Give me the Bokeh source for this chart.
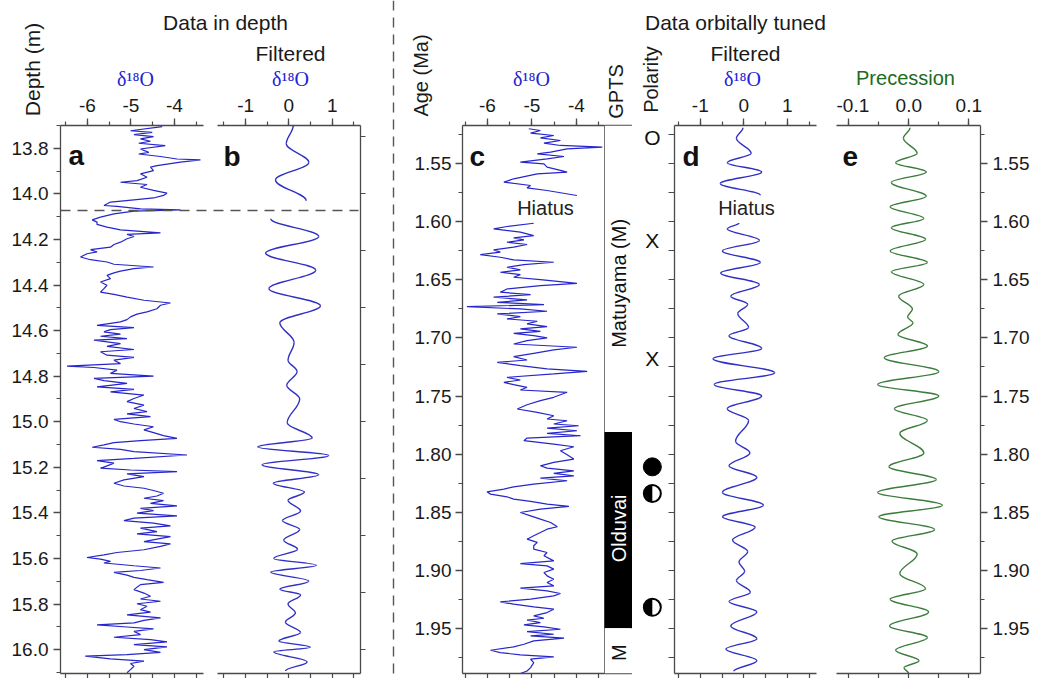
import math
from bokeh.plotting import figure
from bokeh.layouts import row
from bokeh.models import (Range1d, LinearAxis, SingleIntervalTicker, FixedTicker,
                          NumeralTickFormatter, Label, Span, GridBox)
from bokeh.core.properties import value
from bokeh.embed import file_html
from bokeh.resources import INLINE

# ---------------------------------------------------------------- data
# (a) d18O vs depth (m)
depth_a = [13.705, 13.723, 13.730, 13.740, 13.749, 13.759, 13.769, 13.778, 13.788, 13.803,
           13.818, 13.825, 13.836, 13.847, 13.851, 13.861, 13.876, 13.883, 13.898, 13.912,
           13.927, 13.942, 13.949, 13.959, 13.971, 13.985, 13.997, 14.007, 14.018, 14.026,
           14.036, 14.051, 14.055, 14.066, 14.070, 14.076, 14.088, 14.102, 14.114, 14.124,
           14.134, 14.146, 14.158, 14.171, 14.178, 14.187, 14.197, 14.212, 14.222, 14.234,
           14.245, 14.255, 14.263, 14.277, 14.289, 14.299, 14.309, 14.321, 14.328, 14.339,
           14.347, 14.358, 14.372, 14.387, 14.401, 14.416, 14.431, 14.441, 14.453, 14.467,
           14.479, 14.489, 14.504, 14.518, 14.528, 14.540, 14.552, 14.562, 14.577, 14.587,
           14.596, 14.606, 14.616, 14.625, 14.635, 14.642, 14.657, 14.669, 14.683, 14.693,
           14.708, 14.718, 14.730, 14.745, 14.756, 14.762, 14.774, 14.788, 14.800, 14.810,
           14.820, 14.832, 14.847, 14.858, 14.869, 14.883, 14.898, 14.912, 14.927, 14.942,
           14.956, 14.966, 14.978, 14.990, 15.000, 15.010, 15.022, 15.036, 15.048, 15.061,
           15.073, 15.083, 15.092, 15.102, 15.112, 15.121, 15.131, 15.146, 15.161, 15.171,
           15.182, 15.194, 15.204, 15.212, 15.219, 15.229, 15.241, 15.255, 15.270, 15.282,
           15.292, 15.302, 15.314, 15.326, 15.336, 15.346, 15.358, 15.369, 15.380, 15.390,
           15.401, 15.413, 15.423, 15.434, 15.445, 15.457, 15.467, 15.482, 15.492, 15.504,
           15.515, 15.526, 15.536, 15.547, 15.562, 15.574, 15.584, 15.596, 15.603, 15.613,
           15.620, 15.632, 15.642, 15.653, 15.661, 15.673, 15.683, 15.693, 15.705, 15.715,
           15.726, 15.737, 15.752, 15.766, 15.778, 15.788, 15.799, 15.810, 15.825, 15.836,
           15.848, 15.861, 15.872, 15.883, 15.892, 15.901, 15.909, 15.920, 15.934, 15.946,
           15.956, 15.966, 15.978, 15.988, 16.000, 16.012, 16.022, 16.029, 16.041, 16.051,
           16.061, 16.073, 16.088, 16.102]
d18o_a = [-4.28, -5.01, -4.51, -4.93, -4.48, -4.78, -4.55, -4.82, -4.21, -4.78,
          -4.59, -4.82, -4.32, -3.94, -3.40, -3.86, -4.40, -4.55, -4.48, -4.78,
          -4.63, -4.86, -5.24, -4.63, -4.78, -4.48, -4.17, -4.25, -4.48, -4.93,
          -5.47, -5.62, -5.32, -4.78, -3.86, -4.93, -5.39, -5.70, -5.89, -5.78,
          -5.78, -5.55, -5.24, -4.32, -5.09, -4.93, -5.09, -5.24, -5.39, -5.47,
          -5.93, -5.78, -6.01, -6.16, -5.93, -5.55, -5.39, -4.48, -4.93, -5.24,
          -5.39, -5.55, -5.47, -5.70, -5.55, -5.62, -5.70, -5.39, -5.09, -4.70,
          -4.09, -4.32, -4.40, -4.63, -4.86, -5.01, -5.09, -5.24, -5.78, -4.93,
          -5.47, -5.62, -5.24, -5.70, -5.09, -5.85, -5.24, -5.55, -4.93, -5.70,
          -5.55, -4.93, -5.39, -5.24, -6.47, -5.85, -5.32, -5.47, -4.48, -5.85,
          -5.62, -5.09, -5.78, -4.93, -5.47, -4.70, -4.93, -5.09, -4.70, -4.93,
          -4.63, -5.09, -4.55, -5.39, -5.24, -4.93, -4.48, -4.70, -4.48, -4.25,
          -3.94, -4.78, -5.39, -5.62, -5.89, -5.24, -4.93, -3.71, -4.93, -5.78,
          -5.39, -5.55, -5.70, -5.01, -3.94, -5.09, -4.70, -5.16, -5.39, -5.16,
          -4.70, -4.48, -4.25, -4.40, -4.70, -4.25, -4.55, -3.94, -4.78, -4.48,
          -4.86, -3.94, -4.93, -5.16, -4.48, -4.09, -4.78, -4.40, -4.86, -4.09,
          -4.40, -4.70, -4.09, -4.32, -4.70, -5.32, -5.62, -6.01, -5.70, -5.47,
          -5.62, -4.93, -4.32, -4.78, -5.39, -5.09, -4.93, -4.63, -4.25, -4.78,
          -4.86, -4.93, -4.70, -4.55, -4.78, -4.32, -4.86, -4.63, -4.78, -4.55,
          -5.09, -4.32, -4.70, -4.93, -5.78, -5.09, -4.48, -4.93, -4.78, -5.39,
          -4.55, -4.17, -4.93, -4.17, -4.70, -4.32, -5.09, -6.05, -5.47, -4.70,
          -5.01, -4.93, -5.01, -5.09]

# (b) filtered d18O vs depth (turning points), two segments around the hiatus
depth_b1 = [13.700, 13.780, 13.862, 13.939, 14.030]
filt_b1 = [0.10, -0.06, 0.46, -0.31, 0.40]
depth_b2 = [14.109, 14.187, 14.260, 14.335, 14.416, 14.491, 14.566, 14.652, 14.730, 14.780,
            14.840, 14.900, 15.005, 15.072, 15.111, 15.148, 15.189, 15.233, 15.270, 15.309,
            15.345, 15.392, 15.434, 15.473, 15.520, 15.560, 15.600, 15.630, 15.660, 15.700,
            15.735, 15.760, 15.800, 15.840, 15.880, 15.925, 15.962, 15.990, 16.010, 16.054,
            16.094]
filt_b2 = [-0.42, 0.69, -0.54, 0.62, -0.46, 0.73, -0.21, 0.12, -0.02, 0.19,
           -0.05, 0.25, -0.04, 0.54, -0.72, 0.92, -0.62, 0.69, -0.36, 0.36,
           -0.02, 0.27, -0.15, 0.25, -0.12, 0.20, -0.35, 0.64, -0.42, 0.46,
           -0.21, 0.27, -0.02, 0.15, -0.08, 0.27, -0.23, 0.50, -0.35, 0.42,
           -0.08]
hiatus_depth = 14.073

# (c) d18O vs age (Ma), two segments around the hiatus
age_c1 = [1.5198, 1.5213, 1.5236, 1.5256, 1.5276, 1.5299, 1.5322, 1.5342, 1.5356, 1.5371,
          1.5399, 1.5414, 1.5437, 1.5457, 1.5486, 1.5500, 1.5529, 1.5557, 1.5572, 1.5586,
          1.5629, 1.5658, 1.5687, 1.5707, 1.5730, 1.5773]
d18o_c1 = [-5.07, -4.81, -5.03, -4.51, -4.81, -4.36, -4.73, -4.36, -3.42, -4.21,
           -4.58, -4.88, -4.28, -4.66, -5.26, -4.73, -4.66, -4.36, -4.21, -4.88,
           -5.41, -5.63, -5.03, -5.11, -4.66, -3.99]
age_c2 = [1.6012, 1.6040, 1.6060, 1.6089, 1.6118, 1.6138, 1.6155, 1.6175, 1.6195, 1.6218,
          1.6241, 1.6261, 1.6282, 1.6305, 1.6328, 1.6348, 1.6368, 1.6391, 1.6414, 1.6434,
          1.6454, 1.6477, 1.6497, 1.6529, 1.6549, 1.6578, 1.6606, 1.6626, 1.6649, 1.6672,
          1.6693, 1.6713, 1.6730, 1.6750, 1.6770, 1.6793, 1.6816, 1.6836, 1.6856, 1.6879,
          1.6902, 1.6922, 1.6943, 1.6960, 1.6980, 1.7000, 1.7023, 1.7052, 1.7080, 1.7103,
          1.7132, 1.7161, 1.7190, 1.7210, 1.7239, 1.7267, 1.7287, 1.7310, 1.7339, 1.7362,
          1.7382, 1.7402, 1.7425, 1.7448, 1.7468, 1.7489, 1.7511, 1.7540, 1.7575, 1.7612,
          1.7641, 1.7670, 1.7698, 1.7713, 1.7741, 1.7756, 1.7776, 1.7799, 1.7822, 1.7842,
          1.7862, 1.7885, 1.7914, 1.7937, 1.7971, 1.8006, 1.8043, 1.8072, 1.8101, 1.8121,
          1.8144, 1.8167, 1.8187, 1.8207, 1.8230, 1.8259, 1.8282, 1.8302, 1.8325, 1.8345,
          1.8368, 1.8388, 1.8408, 1.8431, 1.8451, 1.8474, 1.8503, 1.8532, 1.8560, 1.8589,
          1.8626, 1.8647, 1.8675, 1.8704, 1.8733, 1.8761, 1.8790, 1.8819, 1.8848, 1.8876,
          1.8920, 1.8943, 1.8963, 1.8991, 1.9020, 1.9049, 1.9078, 1.9106, 1.9135, 1.9155,
          1.9178, 1.9201, 1.9221, 1.9250, 1.9273, 1.9293, 1.9316, 1.9336, 1.9365, 1.9394,
          1.9414, 1.9431, 1.9451, 1.9471, 1.9489, 1.9509, 1.9529, 1.9552, 1.9566, 1.9586,
          1.9609, 1.9638, 1.9661, 1.9690, 1.9710, 1.9730, 1.9747, 1.9767, 1.9796, 1.9839,
          1.9868, 1.9891]
d18o_c2 = [-4.96, -5.56, -5.86, -5.26, -4.96, -5.41, -5.18, -5.56, -5.11, -5.41,
           -5.86, -5.71, -6.16, -5.71, -5.41, -4.51, -5.18, -5.56, -5.26, -5.71,
           -5.26, -5.41, -4.81, -3.99, -4.81, -5.56, -5.71, -5.03, -5.86, -5.11,
           -5.78, -4.73, -6.46, -5.26, -4.66, -5.78, -5.26, -5.56, -4.88, -5.11,
           -4.66, -5.26, -4.81, -5.41, -4.96, -4.66, -5.11, -5.41, -3.99, -4.51,
           -4.96, -5.41, -5.11, -5.78, -5.26, -4.66, -3.76, -4.51, -5.56, -5.26,
           -5.63, -5.41, -5.11, -5.26, -4.21, -4.36, -4.51, -4.81, -5.11, -5.33,
           -4.88, -4.51, -4.66, -4.21, -4.51, -3.95, -4.66, -3.99, -4.66, -3.91,
           -5.11, -5.18, -4.51, -4.06, -4.36, -4.21, -4.06, -4.51, -4.81, -4.66,
           -4.06, -4.51, -4.06, -4.81, -4.21, -4.96, -5.41, -5.63, -6.01, -5.93,
           -5.56, -5.41, -5.03, -4.66, -4.17, -4.81, -5.26, -5.03, -4.81, -4.58,
           -4.43, -4.66, -4.81, -4.96, -5.11, -4.88, -4.96, -4.96, -4.66, -4.73,
           -4.51, -5.26, -4.66, -4.51, -4.73, -4.66, -4.51, -4.66, -4.51, -5.26,
           -4.66, -4.36, -4.51, -5.03, -5.71, -5.41, -4.96, -4.51, -4.66, -4.96,
           -4.73, -5.11, -4.81, -5.18, -4.73, -4.36, -5.11, -4.51, -5.03, -4.28,
           -4.96, -5.18, -5.41, -5.93, -5.71, -5.26, -4.51, -5.03, -4.96, -5.03,
           -5.11, -5.26]

# (d) filtered d18O vs age (turning points)
age_d1 = [1.519, 1.528, 1.541, 1.549, 1.557, 1.567, 1.577]
filt_d1 = [-0.02, -0.17, 0.17, -0.38, 0.41, -0.54, 0.38]
age_d2 = [1.601, 1.606, 1.616, 1.625, 1.635, 1.644, 1.654, 1.664, 1.671, 1.679,
          1.691, 1.698, 1.709, 1.718, 1.730, 1.740, 1.750, 1.761, 1.771, 1.789,
          1.799, 1.810, 1.820, 1.833, 1.844, 1.854, 1.863, 1.874, 1.884, 1.893,
          1.901, 1.909, 1.919, 1.927, 1.936, 1.948, 1.959, 1.968, 1.978, 1.987]
filt_d2 = [-0.11, -0.38, 0.36, -0.49, 0.38, -0.53, 0.36, -0.30, 0.09, -0.14,
           0.11, -0.34, 0.41, -0.71, 0.71, -0.68, 0.41, -0.38, 0.11, -0.19,
           0.14, -0.34, 0.30, -0.49, 0.45, -0.49, 0.26, -0.26, 0.09, -0.11,
           0.02, -0.17, 0.15, -0.34, 0.30, -0.30, 0.30, -0.41, 0.30, -0.23]

# (e) precession vs age (turning points)
age_e = [1.519, 1.528, 1.541, 1.549, 1.557, 1.566, 1.578, 1.587, 1.597, 1.605,
         1.615, 1.625, 1.635, 1.643, 1.654, 1.664, 1.675, 1.682, 1.687, 1.697,
         1.707, 1.717, 1.729, 1.740, 1.750, 1.761, 1.771, 1.782, 1.799, 1.811,
         1.822, 1.833, 1.844, 1.854, 1.865, 1.875, 1.886, 1.903, 1.916, 1.925,
         1.936, 1.948, 1.958, 1.969, 1.978, 1.984, 1.989]
prec_e = [0.002, -0.009, 0.014, -0.022, 0.029, -0.029, 0.029, -0.031, 0.025, -0.029,
          0.028, -0.031, 0.031, -0.029, 0.025, -0.017, 0.006, -0.002, 0.007, -0.018,
          0.031, -0.041, 0.050, -0.052, 0.050, -0.024, 0.031, -0.015, 0.025, -0.033,
          0.046, -0.052, 0.056, -0.050, 0.043, -0.028, 0.014, -0.015, 0.028, -0.031,
          0.033, -0.032, 0.031, -0.022, 0.017, -0.008, 0.000]

# GPTS chrons
gpts_top = [1.517, 1.781, 1.950]
gpts_bottom = [1.781, 1.950, 1.989]
gpts_fill = ["white", "black", "white"]
gpts_names = ["Matuyama (M)", "Olduvai", "M"]
gpts_label_age = [1.653, 1.864, 1.971]
gpts_text_color = ["#111111", "white", "#111111"]

# polarity symbols
pol_age = [1.527, 1.616, 1.718, 1.811, 1.834, 1.932]
pol_symbol = ["O", "X", "X", "filled", "half", "half"]

# tick positions of the unlabelled axes
ticks_o18 = [-6.5, -6.0, -5.5, -5.0, -4.5, -4.0, -3.5]
ticks_filt = [-1.5, -1.0, -0.5, 0.0, 0.5, 1.0, 1.5]
ticks_prec = [-0.1, -0.05, 0.0, 0.05, 0.1]
ticks_depth_b = [13.75, 14.0, 14.25, 14.5, 14.75, 15.0, 15.25, 15.5, 15.75, 16.0]
ticks_age = [1.525, 1.55, 1.575, 1.60, 1.625, 1.65, 1.675, 1.70, 1.725, 1.75,
             1.775, 1.80, 1.825, 1.85, 1.875, 1.90, 1.925, 1.95, 1.975]

# ---------------------------------------------------------------- layout / style
DEPTH_TOP, DEPTH_BOT = 13.70, 16.105
AGE_TOP, AGE_BOT = 1.517, 1.989
XA = (-6.62, -3.33)
XB = (-1.65, 1.655)
XC = (-6.56, -3.37)
XD = (-1.593, 1.671)
XE = (-0.1205, 0.1195)

W = 1038
H = 678
TOP = 125
BOT = 5
FRAME_TOP = TOP
FRAME_H = H - TOP - BOT

SANS = "Liberation Sans"
SERIF = "Liberation Serif"
AXC = "#4a4a4a"
TXT = "#1a1a1a"
BLUE_TXT = "#2323d2"
BLUE_LINE = "#2626cc"
FILT_BLUE = "#3030c4"
GREEN_TXT = "#1d6b1d"
GREEN_LINE = "#3c7c3c"


def base_fig(width, mbl, mbr, xr, ybot, ytop, xloc="above", yloc=None):
    p = figure(width=width, height=H, x_range=Range1d(*xr), y_range=Range1d(ybot, ytop),
               x_axis_location=xloc, y_axis_location=yloc, toolbar_location=None,
               output_backend="svg", title=None,
               min_border_left=mbl, min_border_right=mbr,
               min_border_top=TOP, min_border_bottom=BOT)
    p.outline_line_color = None
    p.grid.visible = False
    p.background_fill_color = "white"
    p.border_fill_color = "white"
    return p


def line_style(ax):
    ax.axis_line_color = AXC
    ax.axis_line_width = 1.3
    ax.major_tick_line_color = AXC
    ax.major_tick_line_width = 1.3
    ax.minor_tick_line_color = AXC
    ax.minor_tick_line_width = 1.2
    ax.major_tick_in = 0
    ax.minor_tick_in = 0


def labelled(ax, ticker, fmt, standoff=7):
    line_style(ax)
    ax.ticker = ticker
    ax.formatter = fmt
    ax.major_tick_out = 7
    ax.minor_tick_out = 4
    ax.major_label_standoff = standoff
    ax.major_label_text_font = SANS
    ax.major_label_text_font_size = "19px"
    ax.major_label_text_color = TXT


def ticks_only(ax, positions, out=5):
    line_style(ax)
    ax.ticker = FixedTicker(ticks=[], minor_ticks=positions)
    ax.minor_tick_out = out
    ax.major_tick_out = out
    ax.major_label_standoff = 0


def bottom_ticks(p, positions):
    ax = LinearAxis()
    p.add_layout(ax, "below")
    ticks_only(ax, positions, out=5)


def smooth(p, vals, ys, color, width):
    # draw a smooth curve through the turning points (vertical tangents at each point)
    k = 1 - 2 / math.pi
    x0, x1 = vals[:-1], vals[1:]
    y0, y1 = ys[:-1], ys[1:]
    cy0 = [a + k * (b - a) for a, b in zip(y0, y1)]
    cy1 = [b - k * (b - a) for a, b in zip(y0, y1)]
    p.bezier(x0=x0, y0=y0, x1=x1, y1=y1, cx0=x0, cy0=cy0, cx1=x1, cy1=cy1,
             line_color=color, line_width=width)


def frame_text(p, x_left, y_top, dx, page_y, text, **kw):
    p.add_layout(Label(x=x_left, y=y_top, x_offset=dx, y_offset=-(page_y - FRAME_TOP),
                       text=text, **kw))


letter_kw = dict(text_font=SANS, text_font_size="28px", text_font_style="bold",
                 text_color="#111111", text_baseline="alphabetic", text_align="left")
hiatus_kw = dict(text_font=SANS, text_font_size="20px", text_color="#222222",
                 text_baseline="middle", text_align="center")

INT_FMT = "0"

# ---- panel a
pa = base_fig(210, 60, 7, XA, DEPTH_BOT, DEPTH_TOP, yloc="left")
labelled(pa.xaxis[0], SingleIntervalTicker(interval=1, num_minor_ticks=2),
         NumeralTickFormatter(format=INT_FMT))
labelled(pa.yaxis[0], SingleIntervalTicker(interval=0.2, num_minor_ticks=2),
         NumeralTickFormatter(format="0.0"), standoff=5)
bottom_ticks(pa, ticks_o18)
pa.line(d18o_a, depth_a, line_color=BLUE_LINE, line_width=1.2)
frame_text(pa, XA[0], DEPTH_TOP, 8, 155, "a", **letter_kw)

# ---- panel b
pb = base_fig(190, 7, 40, XB, DEPTH_BOT, DEPTH_TOP, yloc="right")
labelled(pb.xaxis[0], SingleIntervalTicker(interval=1, num_minor_ticks=2),
         NumeralTickFormatter(format=INT_FMT))
ticks_only(pb.yaxis[0], ticks_depth_b, out=5)
bottom_ticks(pb, ticks_filt)
smooth(pb, filt_b1, depth_b1, FILT_BLUE, 1.4)
smooth(pb, filt_b2, depth_b2, FILT_BLUE, 1.4)
frame_text(pb, XB[0], DEPTH_TOP, 6, 156, "b", **letter_kw)

# ---- panel c
pc = base_fig(204, 62, 0, XC, AGE_BOT, AGE_TOP, yloc="left")
labelled(pc.xaxis[0], SingleIntervalTicker(interval=1, num_minor_ticks=2),
         NumeralTickFormatter(format=INT_FMT))
labelled(pc.yaxis[0], SingleIntervalTicker(interval=0.05, num_minor_ticks=2),
         NumeralTickFormatter(format="0.00"), standoff=4)
bottom_ticks(pc, ticks_o18)
pc.line(d18o_c1, age_c1, line_color=BLUE_LINE, line_width=1.2)
pc.line(d18o_c2, age_c2, line_color=BLUE_LINE, line_width=1.2)
frame_text(pc, XC[0], AGE_TOP, 7, 156, "c", **letter_kw)
frame_text(pc, XC[0], AGE_TOP, 83, 207, "Hiatus", **hiatus_kw)

# ---- GPTS column
pg = base_fig(28, 0, 0, (0, 1), AGE_BOT, AGE_TOP, xloc=None, yloc=None)
pg.outline_line_color = AXC
pg.outline_line_width = 1.3
pg.quad(left=0, right=1, top=gpts_top, bottom=gpts_bottom, fill_color=gpts_fill,
        line_color=None)
pg.text(x=[0.5] * len(gpts_names), y=gpts_label_age, text=gpts_names, angle=math.pi / 2,
        text_align="center", text_baseline="middle", text_font=value(SANS),
        text_font_size="20px", text_color=gpts_text_color)

# ---- polarity column
pp = base_fig(32, 0, 0, (0, 1), AGE_BOT, AGE_TOP, xloc=None, yloc=None)
POL_X = 0.62
let_age = [a for a, s in zip(pol_age, pol_symbol) if s in ("O", "X")]
let_txt = [s for s in pol_symbol if s in ("O", "X")]
pp.text(x=[POL_X] * len(let_age), y=let_age, text=let_txt, text_align="center",
        text_baseline="middle", text_font=value(SANS), text_font_size="21px",
        text_color="#111111")
full_age = [a for a, s in zip(pol_age, pol_symbol) if s == "filled"]
half_age = [a for a, s in zip(pol_age, pol_symbol) if s == "half"]
pp.scatter([POL_X] * len(full_age), full_age, marker="circle", size=18,
           fill_color="black", line_color="black")
pp.scatter([POL_X] * len(half_age), half_age, marker="circle", size=17,
           fill_color="white", line_color=None)
pp.wedge([POL_X] * len(half_age), half_age, radius=8.5, radius_units="screen",
         start_angle=math.pi / 2, end_angle=3 * math.pi / 2, fill_color="black",
         line_color=None)
pp.scatter([POL_X] * len(half_age), half_age, marker="circle", size=17,
           fill_color=None, line_color="black", line_width=2)

# ---- panel d
pdd = base_fig(172, 10, 20, XD, AGE_BOT, AGE_TOP, yloc="left")
labelled(pdd.xaxis[0], SingleIntervalTicker(interval=1, num_minor_ticks=2),
         NumeralTickFormatter(format=INT_FMT))
ticks_only(pdd.yaxis[0], ticks_age, out=6)
bottom_ticks(pdd, ticks_filt)
smooth(pdd, filt_d1, age_d1, FILT_BLUE, 1.4)
smooth(pdd, filt_d2, age_d2, FILT_BLUE, 1.4)
frame_text(pdd, XD[0], AGE_TOP, 8, 156, "d", **letter_kw)
frame_text(pdd, XD[0], AGE_TOP, 72, 207, "Hiatus", **hiatus_kw)

# ---- panel e
pe = base_fig(202, 0, 58, XE, AGE_BOT, AGE_TOP, yloc="right")
labelled(pe.xaxis[0], SingleIntervalTicker(interval=0.1, num_minor_ticks=2),
         NumeralTickFormatter(format="0.0"))
labelled(pe.yaxis[0], SingleIntervalTicker(interval=0.05, num_minor_ticks=2),
         NumeralTickFormatter(format="0.00"), standoff=5)
bottom_ticks(pe, ticks_prec)
smooth(pe, prec_e, age_e, GREEN_LINE, 1.4)
frame_text(pe, XE[0], AGE_TOP, 6, 156, "e", **letter_kw)

main = row(pa, pb, pc, pg, pp, pdd, pe)

# ---- overlay with headers and separators (page pixel coordinates)
ov = figure(width=W, height=H, x_range=Range1d(0, W), y_range=Range1d(H, 0),
            x_axis_location=None, y_axis_location=None, toolbar_location=None,
            output_backend="svg", title=None, min_border=0)
ov.background_fill_color = None
ov.border_fill_color = None
ov.outline_line_color = None
ov.grid.visible = False
dpp = (DEPTH_BOT - DEPTH_TOP) / FRAME_H
ov.extra_y_ranges = {"depth": Range1d(DEPTH_BOT + (H - (FRAME_TOP + FRAME_H)) * dpp,
                                      DEPTH_TOP - FRAME_TOP * dpp)}
ov.segment(x0=[60], x1=[358], y0=[hiatus_depth], y1=[hiatus_depth], y_range_name="depth",
           line_color="#555555", line_width=1.5, line_dash="10 7")
ov.add_layout(Span(location=393, dimension="height", line_color="#555555",
                   line_width=1.4, line_dash="10 7"))


def head(x, y, text, size="21px", color=TXT, font=SANS, angle=0):
    ov.add_layout(Label(x=x, y=y, text=text, text_font=font, text_font_size=size,
                        text_color=color, text_align="center", text_baseline="middle",
                        angle=angle, angle_units="deg"))


head(225, 22, "Data in depth")
head(735, 22, "Data orbitally tuned")
head(32, 69, "Depth (m)", angle=90)
head(420, 75, "Age (Ma)", size="20px", angle=90)
head(615, 91, "GPTS", size="20px", angle=90)
head(650, 79, "Polarity", size="20px", angle=90)
head(290, 53, "Filtered")
head(745, 53, "Filtered")
for xc in (135, 290, 531, 742):
    head(xc, 78, "δ¹⁸O", size="20px", color=BLUE_TXT, font=SERIF)
head(905, 77, "Precession", size="20px", color=GREEN_TXT)

layout = GridBox(children=[(main, 0, 0), (ov, 0, 0)])

with open("out.html", "w") as f:
    f.write(file_html(layout, INLINE))
